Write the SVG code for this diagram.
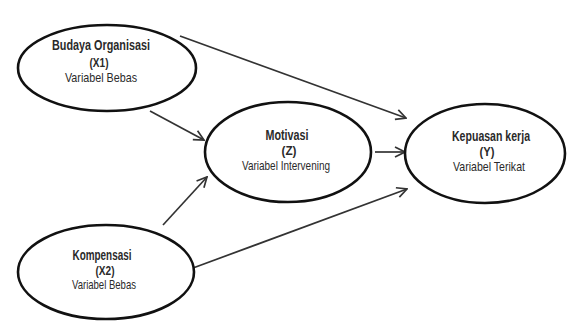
<svg xmlns="http://www.w3.org/2000/svg" width="568" height="322" viewBox="0 0 568 322">
<style>
.node ellipse{fill:#fff;stroke:#111;stroke-width:2.6}
.t{font-family:"Liberation Sans",Arial,sans-serif;text-anchor:middle;fill:#2a2a2a}
.h{font-size:15px;font-weight:bold}
.p{font-size:13px;font-weight:bold}
.s{font-size:13.5px}
.conn line{stroke:#333;stroke-width:1.7}
</style>
<defs>
<marker id="arr" viewBox="0 0 12 12" refX="11" refY="6" markerWidth="12" markerHeight="12" markerUnits="userSpaceOnUse" orient="auto">
<path d="M1,1 L11,6 L1,11" fill="none" stroke="#333" stroke-width="1.7"/>
</marker>
</defs>
<rect width="568" height="322" fill="#fff"/>
<g class="conn">
<line x1="180" y1="36" x2="406" y2="118" marker-end="url(#arr)"/>
<line x1="150" y1="111" x2="204" y2="140" marker-end="url(#arr)"/>
<line x1="163" y1="225" x2="207" y2="177" marker-end="url(#arr)"/>
<line x1="375" y1="152" x2="405" y2="152" marker-end="url(#arr)"/>
<line x1="193" y1="268" x2="407" y2="189" marker-end="url(#arr)"/>
</g>
<g id="budaya" class="node">
<ellipse cx="107" cy="68" rx="89" ry="43"/>
<text class="t h" x="101" y="50" textLength="98" lengthAdjust="spacingAndGlyphs">Budaya Organisasi</text>
<text class="t p" x="99" y="67" textLength="19" lengthAdjust="spacingAndGlyphs">(X1)</text>
<text class="t s" x="101" y="82" textLength="72" lengthAdjust="spacingAndGlyphs">Variabel Bebas</text>
</g>
<g id="motivasi" class="node">
<ellipse cx="288" cy="152" rx="83" ry="50"/>
<text class="t h" x="287" y="140" textLength="43" lengthAdjust="spacingAndGlyphs">Motivasi</text>
<text class="t p" x="289" y="155" textLength="15" lengthAdjust="spacingAndGlyphs">(Z)</text>
<text class="t s" x="286" y="170" textLength="88" lengthAdjust="spacingAndGlyphs">Variabel Intervening</text>
</g>
<g id="kepuasan" class="node">
<ellipse cx="485" cy="153.5" rx="80" ry="49.5"/>
<text class="t h" x="491" y="141" textLength="78" lengthAdjust="spacingAndGlyphs">Kepuasan kerja</text>
<text class="t p" x="487" y="156" textLength="15" lengthAdjust="spacingAndGlyphs">(Y)</text>
<text class="t s" x="489" y="171" textLength="72" lengthAdjust="spacingAndGlyphs">Variabel Terikat</text>
</g>
<g id="kompensasi" class="node">
<ellipse cx="106" cy="272" rx="88" ry="47"/>
<text class="t h" x="102" y="260" textLength="59" lengthAdjust="spacingAndGlyphs">Kompensasi</text>
<text class="t p" x="105" y="275" textLength="19" lengthAdjust="spacingAndGlyphs">(X2)</text>
<text class="t s" x="104" y="289" textLength="64" lengthAdjust="spacingAndGlyphs">Variabel Bebas</text>
</g>
</svg>
